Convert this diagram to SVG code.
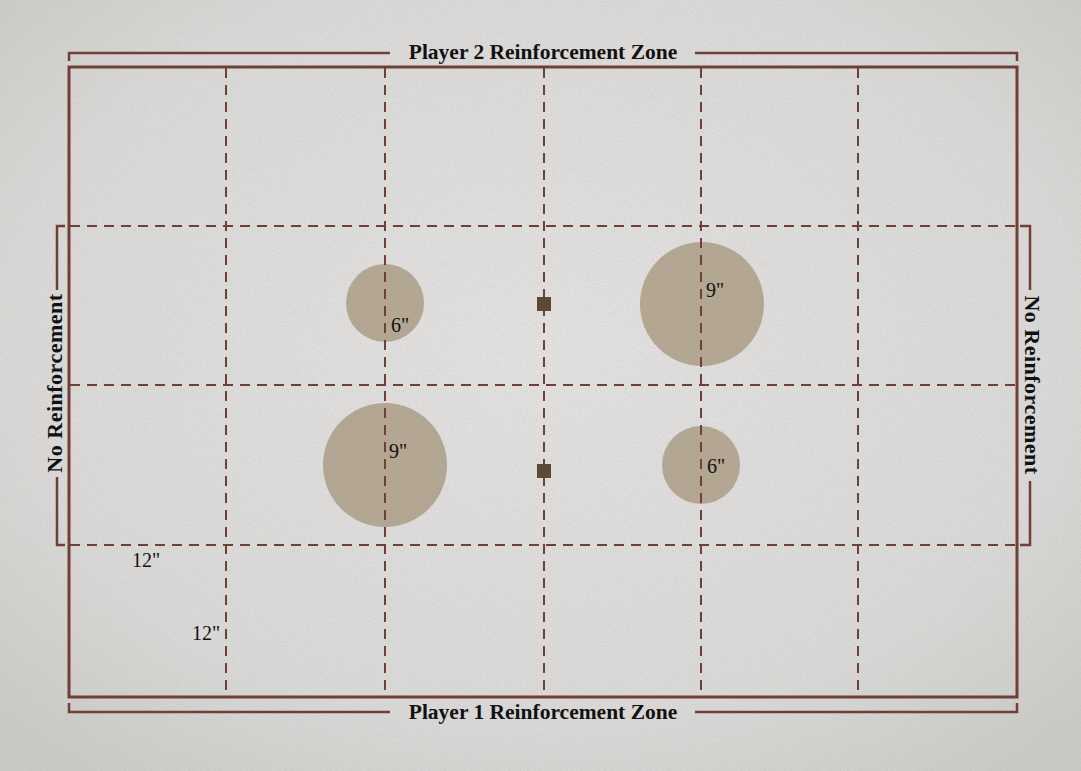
<svg xmlns="http://www.w3.org/2000/svg" width="1081" height="771" viewBox="0 0 1081 771">
  <defs>
    <radialGradient id="bg" cx="50%" cy="45%" r="70%">
      <stop offset="0" stop-color="#e4e3e1"/>
      <stop offset="0.7" stop-color="#dbdad8"/>
      <stop offset="1" stop-color="#cbcac7"/>
    </radialGradient>
    <filter id="grain" x="0" y="0" width="100%" height="100%">
      <feTurbulence type="fractalNoise" baseFrequency="0.8" numOctaves="2" seed="3" result="n"/>
      <feColorMatrix type="matrix" values="0 0 0 0 0.45  0 0 0 0 0.45  0 0 0 0 0.44  0 0 0 -1.6 1.05"/>
    </filter>
    <style>
      .border{fill:none;stroke:#6f4035;stroke-width:3}
      .bracket{fill:none;stroke:#6f4035;stroke-width:2.5}
      .dash{fill:none;stroke:#6f4035;stroke-width:2;stroke-dasharray:10 7}
      .zone{fill:#ab9c85;fill-opacity:0.85}
      .obj{fill:#5d4a32}
      .title{font-family:"Liberation Serif",serif;font-weight:bold;font-size:21.5px;fill:#111;text-anchor:middle}
      .side{font-size:22px;letter-spacing:0.5px}
      .lbl{font-family:"Liberation Serif",serif;font-size:20px;fill:#111}
    </style>
  </defs>
  <g id="background">
    <rect width="1081" height="771" fill="url(#bg)"/>
    <rect width="1081" height="771" filter="url(#grain)" opacity="0.35"/>
  </g>
  <g id="objective-zones">
    <circle class="zone" cx="385" cy="303" r="39"/>
    <circle class="zone" cx="702" cy="304" r="62"/>
    <circle class="zone" cx="385" cy="465" r="62"/>
    <circle class="zone" cx="701" cy="465" r="39"/>
  </g>
  <g id="connectors">
    <line class="dash" x1="226" y1="68" x2="226" y2="696"/>
    <line class="dash" x1="385" y1="68" x2="385" y2="696"/>
    <line class="dash" x1="544" y1="68" x2="544" y2="696"/>
    <line class="dash" x1="701" y1="68" x2="701" y2="696"/>
    <line class="dash" x1="858" y1="68" x2="858" y2="696"/>
    <line class="dash" x1="70" y1="226" x2="1016" y2="226"/>
    <line class="dash" x1="70" y1="385" x2="1016" y2="385"/>
    <line class="dash" x1="70" y1="545" x2="1016" y2="545"/>
  </g>
  <g id="table">
    <rect class="border" x="69" y="67" width="948" height="630"/>
  </g>
  <g id="objectives">
    <rect class="obj" x="537" y="297" width="14" height="14"/>
    <rect class="obj" x="537" y="464" width="14" height="14"/>
  </g>
  <g id="p2-zone">
    <path class="bracket" d="M69,61 V53 H390 M695,53 H1017 V61"/>
    <text class="title" x="543" y="59">Player 2 Reinforcement Zone</text>
  </g>
  <g id="p1-zone">
    <path class="bracket" d="M69,703 V712 H390 M695,712 H1017 V703"/>
    <text class="title" x="543" y="719">Player 1 Reinforcement Zone</text>
  </g>
  <g id="left-no-reinf">
    <path class="bracket" d="M65,226 H57 V290 M57,477 V545 H65"/>
    <text class="title side" transform="translate(62,383) rotate(-90)">No Reinforcement</text>
  </g>
  <g id="right-no-reinf">
    <path class="bracket" d="M1020,226 H1030 V290 M1030,481 V545 H1020"/>
    <text class="title side" transform="translate(1025,385) rotate(90)">No Reinforcement</text>
  </g>
  <g id="labels">
    <text class="lbl" x="391" y="332">6"</text>
    <text class="lbl" x="706" y="297">9"</text>
    <text class="lbl" x="389" y="458">9"</text>
    <text class="lbl" x="707" y="473">6"</text>
    <text class="lbl" x="132" y="567">12"</text>
    <text class="lbl" x="192" y="640">12"</text>
  </g>
</svg>
